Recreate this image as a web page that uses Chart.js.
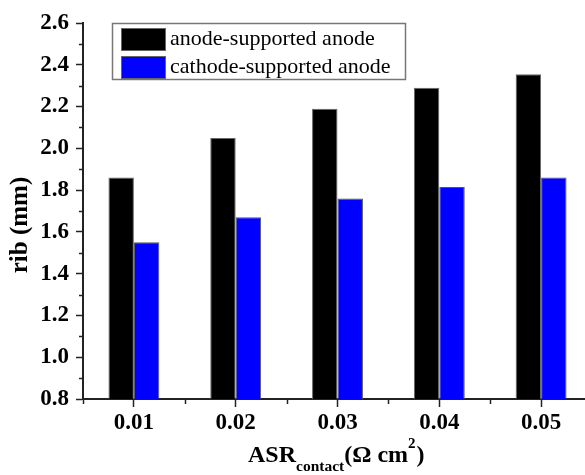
<!DOCTYPE html>
<html>
<head>
<meta charset="utf-8">
<script src="https://cdn.jsdelivr.net/npm/chart.js@4.4.0/dist/chart.umd.min.js"></script>
<style>
  html, body { margin: 0; padding: 0; background: #fff; overflow: hidden; }
  #wrap { width: 585px; height: 475px; overflow: hidden; }
</style>
</head>
<body>
<div id="wrap"><canvas id="rib" width="600" height="475"></canvas></div>
<script>
// data
const asrLabels = ['0.01', '0.02', '0.03', '0.04', '0.05'];
const seriesNames = ['anode-supported anode', 'cathode-supported anode'];
const anodeRib = [1.86, 2.05, 2.19, 2.29, 2.355];
const cathodeRib = [1.55, 1.67, 1.76, 1.815, 1.86];
const yTicks = [0.8, 1.0, 1.2, 1.4, 1.6, 1.8, 2.0, 2.2, 2.4, 2.6];

const serif = '"Liberation Serif", "Times New Roman", serif';

// minor ticks, legend box and axis titles
const extras = {
  id: 'extras',
  afterDraw(chart) {
    const c = chart.ctx;
    const xs = chart.scales.x, ys = chart.scales.y;
    const area = chart.chartArea;
    c.save();
    c.strokeStyle = '#222';
    c.lineWidth = 1.5;
    // y minor ticks
    for (let i = 0; i < yTicks.length - 1; i++) {
      const y = Math.round(ys.getPixelForValue((yTicks[i] + yTicks[i + 1]) / 2)) + 0.5;
      c.beginPath(); c.moveTo(area.left, y); c.lineTo(area.left - 4, y); c.stroke();
    }
    // x minor ticks at category edges
    for (let i = 0; i < asrLabels.length; i++) {
      const step = xs.getPixelForValue(1) - xs.getPixelForValue(0);
      const x = Math.round(xs.getPixelForValue(i) - step / 2) + 0.5;
      c.beginPath(); c.moveTo(x, area.bottom); c.lineTo(x, area.bottom + 5); c.stroke();
    }

    // legend
    c.fillStyle = '#fff';
    c.fillRect(112, 23, 293, 56);
    c.strokeStyle = '#777';
    c.lineWidth = 1.5;
    c.strokeRect(112.5, 23.5, 293, 56);
    c.font = '22px ' + serif;
    c.textBaseline = 'middle';
    chart.data.datasets.forEach((ds, i) => {
      const top = 28 + i * 28;
      c.fillStyle = ds.backgroundColor;
      c.fillRect(121, top, 44, 22);
      c.strokeStyle = '#666';
      c.lineWidth = 1;
      c.strokeRect(121.5, top + 0.5, 44, 22);
      c.fillStyle = '#000';
      c.fillText(ds.label, 170, top + 11);
    });

    // y title
    c.fillStyle = '#000';
    c.save();
    c.translate(21, 225);
    c.rotate(-Math.PI / 2);
    c.font = 'bold 25px ' + serif;
    c.textAlign = 'center';
    c.textBaseline = 'middle';
    c.fillText('rib (mm)', 0, 0);
    c.restore();

    // x title with subscript and superscript
    c.textBaseline = 'alphabetic';
    c.textAlign = 'left';
    let x = 248;
    const base = 462;
    c.font = 'bold 24px ' + serif;
    c.fillText('ASR', x, base); x += c.measureText('ASR').width;
    c.font = 'bold 15.5px ' + serif;
    c.fillText('contact', x, base + 9); x += c.measureText('contact').width;
    c.font = 'bold 24px ' + serif;
    c.fillText('(Ω cm', x, base); x += c.measureText('(Ω cm').width;
    c.font = 'bold 15px ' + serif;
    c.fillText('2', x, base - 14); x += c.measureText('2').width + 1;
    c.font = 'bold 24px ' + serif;
    c.fillText(')', x, base);
    c.restore();
  }
};

new Chart(document.getElementById('rib'), {
  type: 'bar',
  data: {
    labels: asrLabels,
    datasets: [{
      label: seriesNames[0],
      data: anodeRib,
      backgroundColor: '#000000',
      borderColor: '#666',
      borderWidth: 1
    }, {
      label: seriesNames[1],
      data: cathodeRib,
      backgroundColor: '#0000ff',
      borderColor: '#555',
      borderWidth: 1
    }]
  },
  options: {
    responsive: false,
    animation: false,
    layout: { padding: { top: 23, right: 8, left: 0, bottom: 0 } },
    datasets: { bar: { categoryPercentage: 0.5, barPercentage: 1.0 } },
    plugins: {
      legend: { display: false },
      tooltip: { enabled: false }
    },
    scales: {
      x: {
        offset: true,
        grid: { offset: false, drawOnChartArea: false, drawTicks: true, tickLength: 8, tickColor: '#222', tickWidth: 1.5 },
        border: { color: '#222', width: 2 },
        ticks: { color: '#000', font: { family: serif, size: 23, weight: 'bold' }, padding: 2, maxRotation: 0 },
        afterFit(s) { s.height = 76; }
      },
      y: {
        min: 0.8,
        max: 2.6,
        afterBuildTicks(s) { s.ticks = yTicks.map(v => ({ value: v })); },
        grid: { drawOnChartArea: false, drawTicks: true, tickLength: 7, tickColor: '#222', tickWidth: 1.5 },
        border: { color: '#222', width: 2 },
        ticks: {
          color: '#000',
          font: { family: serif, size: 23, weight: 'bold' },
          padding: 7,
          callback: v => v.toFixed(1)
        },
        afterFit(s) { s.width = 83; }
      }
    }
  },
  plugins: [extras]
});
</script>
</body>
</html>
